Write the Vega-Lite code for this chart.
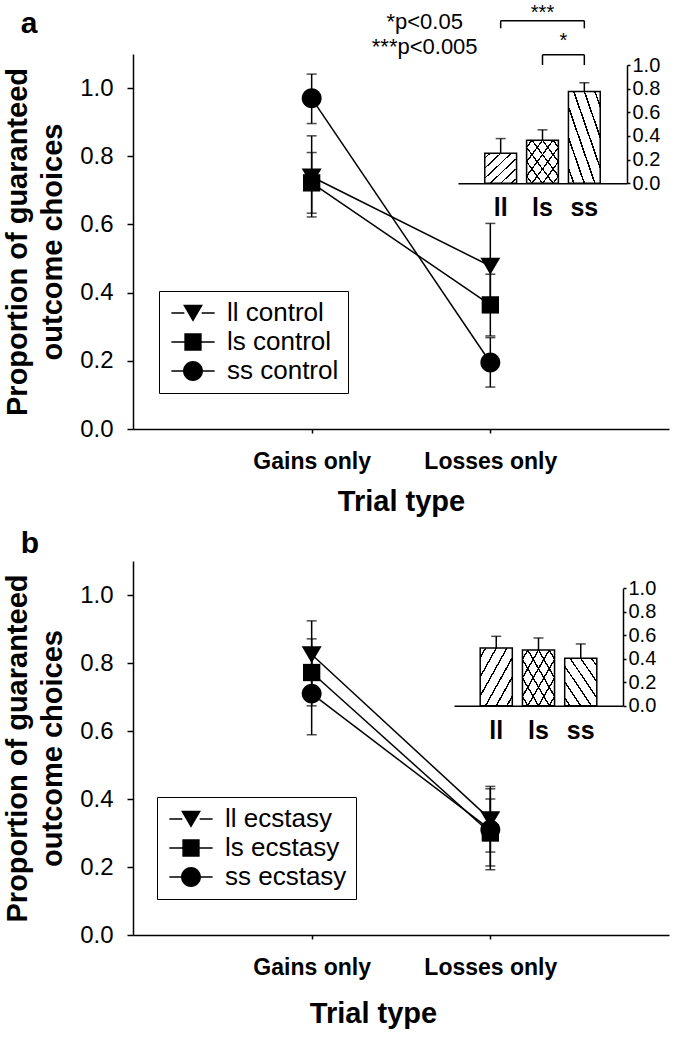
{
  "$schema": "https://vega.github.io/schema/vega-lite/v6.json",
  "background": "white",
  "padding": {"left": 3, "top": 2, "right": 5, "bottom": 5},
  "spacing": 13,
  "config": {
    "font": "Liberation Sans",
    "view": {"stroke": null},
    "axis": {"domainColor": "black", "tickColor": "black", "labelColor": "black", "titleColor": "black", "domainWidth": 1.5, "tickWidth": 1.5, "grid": false},
    "legend": {"labelColor": "black"},
    "title": {"color": "black"}
  },
  "resolve": {"scale": {"shape": "independent"}, "legend": {"shape": "independent"}},
  "datasets": {
    "main_a": [
      {"group": "ll control", "trial": "Gains only", "value": 0.74, "lo": 0.622, "hi": 0.86},
      {"group": "ls control", "trial": "Gains only", "value": 0.722, "lo": 0.633, "hi": 0.811},
      {"group": "ss control", "trial": "Gains only", "value": 0.97, "lo": 0.896, "hi": 1.041},
      {"group": "ll control", "trial": "Losses only", "value": 0.478, "lo": 0.358, "hi": 0.603},
      {"group": "ls control", "trial": "Losses only", "value": 0.364, "lo": 0.273, "hi": 0.454},
      {"group": "ss control", "trial": "Losses only", "value": 0.195, "lo": 0.123, "hi": 0.268}
    ],
    "main_b": [
      {"group": "ll ecstasy", "trial": "Gains only", "value": 0.825, "lo": 0.726, "hi": 0.924},
      {"group": "ls ecstasy", "trial": "Gains only", "value": 0.772, "lo": 0.674, "hi": 0.871},
      {"group": "ss ecstasy", "trial": "Gains only", "value": 0.71, "lo": 0.589, "hi": 0.83},
      {"group": "ll ecstasy", "trial": "Losses only", "value": 0.34, "lo": 0.244, "hi": 0.437},
      {"group": "ls ecstasy", "trial": "Losses only", "value": 0.30, "lo": 0.203, "hi": 0.40},
      {"group": "ss ecstasy", "trial": "Losses only", "value": 0.31, "lo": 0.192, "hi": 0.43}
    ],
    "inset_a": [
      {"g": "ll", "v": 0.254, "hi": 0.378},
      {"g": "ls", "v": 0.364, "hi": 0.452},
      {"g": "ss", "v": 0.776, "hi": 0.85}
    ],
    "inset_b": [
      {"g": "ll", "v": 0.491, "hi": 0.591},
      {"g": "ls", "v": 0.474, "hi": 0.577},
      {"g": "ss", "v": 0.404, "hi": 0.526}
    ],
    "brackets_a": [
      {"x": "ll", "x2": "ss", "y": 1.375, "y2": 1.375},
      {"x": "ll", "x2": "ll", "y": 1.31, "y2": 1.375},
      {"x": "ss", "x2": "ss", "y": 1.31, "y2": 1.375},
      {"x": "ls", "x2": "ss", "y": 1.087, "y2": 1.087},
      {"x": "ls", "x2": "ls", "y": 1.0, "y2": 1.087},
      {"x": "ss", "x2": "ss", "y": 1.0, "y2": 1.087}
    ],
    "stars3": [{"x": "ls", "y": 1.44, "t": "***"}],
    "stars1": [{"x": "ss", "y": 1.2, "t": "*"}],
    "notes_a": [
      {"x": "ll", "y": 1.36, "t": "*p<0.05"},
      {"x": "ll", "y": 1.155, "t": "***p<0.005"}
    ]
  },
  "vconcat": [
    {
      "width": 536,
      "height": 375,
      "title": {"text": "a", "anchor": "start", "frame": "bounds", "fontSize": 30, "fontWeight": "bold", "dx": 17, "dy": 60, "offset": 0, "baseline": "alphabetic"},
      "resolve": {"scale": {"x": "independent", "y": "independent"}},
      "layer": [
        {
          "data": {"name": "main_a"},
          "resolve": {"scale": {"shape": "independent"}, "legend": {"shape": "independent"}},
          "encoding": {
            "x": {"field": "trial", "type": "nominal", "sort": ["Gains only", "Losses only"], "scale": {"type": "point", "padding": 1},
              "axis": {"orient": "bottom", "labelAngle": 0, "labelFontSize": 23, "labelFontWeight": "bold", "tickSize": 4, "labelPadding": 17, "title": "Trial type", "titleFontSize": 29, "titleFontWeight": "bold", "titlePadding": 14}},
            "y": {"field": "value", "type": "quantitative", "scale": {"domain": [0, 1.1], "nice": false},
              "axis": {"values": [0, 0.2, 0.4, 0.6, 0.8, 1.0], "format": ".1f", "labelFontSize": 24, "tickSize": 6, "labelPadding": 14, "title": ["Proportion of guaranteed", "outcome choices"], "titleFontSize": 29, "titleFontWeight": "bold", "titlePadding": 12, "titleLineHeight": 35}}
          },
          "layer": [
            {"mark": {"type": "line", "color": "black", "strokeWidth": 1.5}, "encoding": {"detail": {"field": "group"}}},
            {"mark": {"type": "rule", "color": "black", "strokeWidth": 1.5},
              "encoding": {"y": {"field": "lo", "type": "quantitative", "scale": {"domain": [0, 1.1], "nice": false}}, "y2": {"field": "hi"}}},
            {"mark": {"type": "tick", "color": "black", "size": 10, "thickness": 1.5},
              "encoding": {"y": {"field": "lo", "type": "quantitative", "scale": {"domain": [0, 1.1], "nice": false}}}},
            {"mark": {"type": "tick", "color": "black", "size": 10, "thickness": 1.5},
              "encoding": {"y": {"field": "hi", "type": "quantitative", "scale": {"domain": [0, 1.1], "nice": false}}}},
            {"mark": {"type": "point", "filled": true, "color": "black", "opacity": 1, "size": 300},
              "encoding": {"shape": {"field": "group", "type": "nominal", "legend": null,
                "scale": {"domain": ["ll control", "ls control", "ss control"], "range": ["M-1.15,-0.95L1.15,-0.95L0,1Z", "M-1,-1H1V1H-1Z", "M-1.15,0A1.15,1.15,0,1,1,1.15,0A1.15,1.15,0,1,1,-1.15,0Z"]}}}},
            {"transform": [{"filter": "false"}],
              "mark": {"type": "point", "filled": true, "color": "black", "opacity": 1, "size": 300},
              "encoding": {"shape": {"field": "group", "type": "nominal",
                "scale": {"domain": ["ll control", "ls control", "ss control"], "range": ["M-2.5,-0.09H-1V0.09H-2.5ZM1,-0.09H2.5V0.09H1ZM-1.15,-0.95L1.15,-0.95L0,1Z", "M-2.5,-0.09H-1V0.09H-2.5ZM1,-0.09H2.5V0.09H1ZM-1,-1H1V1H-1Z", "M-2.5,-0.09H-1V0.09H-2.5ZM1,-0.09H2.5V0.09H1ZM-1.15,0A1.15,1.15,0,1,1,1.15,0A1.15,1.15,0,1,1,-1.15,0Z"]},
                "legend": {"orient": "none", "legendX": 26, "legendY": 237, "title": null, "strokeColor": "black", "padding": 9, "labelFontSize": 26, "symbolSize": 300, "symbolOffset": 12, "labelOffset": 21, "rowPadding": 3}}}}
          ]
        },
        {
          "encoding": {
            "x": {"field": "g", "type": "nominal", "scale": {"type": "band", "domain": ["ll", "ls", "ss"], "range": [325, 494], "paddingInner": 0.24, "paddingOuter": 0.64},
              "axis": {"orient": "bottom", "offset": -245.7, "title": null, "labelAngle": 0, "labelFontSize": 25, "labelFontWeight": "bold", "ticks": false, "labelPadding": 12}},
            "y": {"field": "v", "type": "quantitative", "scale": {"domain": [0, 1], "range": [129.3, 11], "nice": false},
              "axis": {"orient": "right", "offset": -42, "values": [0, 0.2, 0.4, 0.6, 0.8, 1.0], "format": ".1f", "title": null, "labelFontSize": 20, "tickSize": 3, "labelPadding": 2}}
          },
          "layer": [
            {"data": {"name": "inset_a"}, "mark": {"type": "bar", "fill": "white"}},
            {"data": {"name": "inset_a"}, "transform": [{"filter": "datum.g != 'ss'"}],
              "mark": {"type": "bar", "fill": {"gradient": "linear", "x1": 0, "y1": 0, "x2": 1, "y2": 1, "stops": [
                {"offset": 0, "color": "rgba(0,0,0,0)"}, {"offset": 0.071, "color": "rgba(0,0,0,0)"}, {"offset": 0.071, "color": "black"}, {"offset": 0.096, "color": "black"}, {"offset": 0.096, "color": "rgba(0,0,0,0)"},
                {"offset": 0.2375, "color": "rgba(0,0,0,0)"}, {"offset": 0.2375, "color": "black"}, {"offset": 0.2625, "color": "black"}, {"offset": 0.2625, "color": "rgba(0,0,0,0)"},
                {"offset": 0.404, "color": "rgba(0,0,0,0)"}, {"offset": 0.404, "color": "black"}, {"offset": 0.429, "color": "black"}, {"offset": 0.429, "color": "rgba(0,0,0,0)"},
                {"offset": 0.571, "color": "rgba(0,0,0,0)"}, {"offset": 0.571, "color": "black"}, {"offset": 0.596, "color": "black"}, {"offset": 0.596, "color": "rgba(0,0,0,0)"},
                {"offset": 0.7375, "color": "rgba(0,0,0,0)"}, {"offset": 0.7375, "color": "black"}, {"offset": 0.7625, "color": "black"}, {"offset": 0.7625, "color": "rgba(0,0,0,0)"},
                {"offset": 0.904, "color": "rgba(0,0,0,0)"}, {"offset": 0.904, "color": "black"}, {"offset": 0.929, "color": "black"}, {"offset": 0.929, "color": "rgba(0,0,0,0)"},
                {"offset": 1, "color": "rgba(0,0,0,0)"}]}}},
            {"data": {"name": "inset_a"}, "transform": [{"filter": "datum.g != 'll'"}],
              "mark": {"type": "bar", "fill": {"gradient": "linear", "x1": 0, "y1": 1, "x2": 1, "y2": 0, "stops": [
                {"offset": 0, "color": "rgba(0,0,0,0)"}, {"offset": 0.071, "color": "rgba(0,0,0,0)"}, {"offset": 0.071, "color": "black"}, {"offset": 0.096, "color": "black"}, {"offset": 0.096, "color": "rgba(0,0,0,0)"},
                {"offset": 0.2375, "color": "rgba(0,0,0,0)"}, {"offset": 0.2375, "color": "black"}, {"offset": 0.2625, "color": "black"}, {"offset": 0.2625, "color": "rgba(0,0,0,0)"},
                {"offset": 0.404, "color": "rgba(0,0,0,0)"}, {"offset": 0.404, "color": "black"}, {"offset": 0.429, "color": "black"}, {"offset": 0.429, "color": "rgba(0,0,0,0)"},
                {"offset": 0.571, "color": "rgba(0,0,0,0)"}, {"offset": 0.571, "color": "black"}, {"offset": 0.596, "color": "black"}, {"offset": 0.596, "color": "rgba(0,0,0,0)"},
                {"offset": 0.7375, "color": "rgba(0,0,0,0)"}, {"offset": 0.7375, "color": "black"}, {"offset": 0.7625, "color": "black"}, {"offset": 0.7625, "color": "rgba(0,0,0,0)"},
                {"offset": 0.904, "color": "rgba(0,0,0,0)"}, {"offset": 0.904, "color": "black"}, {"offset": 0.929, "color": "black"}, {"offset": 0.929, "color": "rgba(0,0,0,0)"},
                {"offset": 1, "color": "rgba(0,0,0,0)"}]}}},
            {"data": {"name": "inset_a"}, "mark": {"type": "bar", "fill": "transparent", "stroke": "black", "strokeWidth": 1.5}},
            {"data": {"name": "inset_a"}, "mark": {"type": "rule", "color": "black", "strokeWidth": 1.5}, "encoding": {"y2": {"field": "hi"}}},
            {"data": {"name": "inset_a"}, "mark": {"type": "tick", "color": "black", "size": 10, "thickness": 1.5},
              "encoding": {"y": {"field": "hi", "type": "quantitative", "scale": {"domain": [0, 1], "range": [129.3, 11], "nice": false}}}},
            {"data": {"name": "brackets_a"}, "mark": {"type": "rule", "color": "black", "strokeWidth": 1.5},
              "encoding": {
                "x": {"field": "x", "type": "nominal"},
                "x2": {"field": "x2"},
                "y": {"field": "y", "type": "quantitative"},
                "y2": {"field": "y2"}}},
            {"data": {"name": "stars3"}, "mark": {"type": "text", "fontSize": 20, "color": "black", "baseline": "middle"},
              "encoding": {"x": {"field": "x", "type": "nominal"}, "y": {"field": "y", "type": "quantitative"}, "text": {"field": "t"}}},
            {"data": {"name": "stars1"}, "mark": {"type": "text", "fontSize": 20, "color": "black", "baseline": "middle", "dx": -21},
              "encoding": {"x": {"field": "x", "type": "nominal"}, "y": {"field": "y", "type": "quantitative"}, "text": {"field": "t"}}},
            {"data": {"name": "notes_a"}, "mark": {"type": "text", "fontSize": 22, "color": "black", "baseline": "middle", "align": "center", "dx": -76},
              "encoding": {"x": {"field": "x", "type": "nominal"}, "y": {"field": "y", "type": "quantitative"}, "text": {"field": "t"}}}
          ]
        }
      ]
    },
    {
      "width": 536,
      "height": 374,
      "title": {"text": "b", "anchor": "start", "frame": "bounds", "fontSize": 30, "fontWeight": "bold", "dx": 17, "dy": 22, "offset": 0, "baseline": "alphabetic"},
      "resolve": {"scale": {"x": "independent", "y": "independent"}},
      "layer": [
        {
          "data": {"name": "main_b"},
          "resolve": {"scale": {"shape": "independent"}, "legend": {"shape": "independent"}},
          "encoding": {
            "x": {"field": "trial", "type": "nominal", "sort": ["Gains only", "Losses only"], "scale": {"type": "point", "padding": 1},
              "axis": {"orient": "bottom", "labelAngle": 0, "labelFontSize": 23, "labelFontWeight": "bold", "tickSize": 4, "labelPadding": 17, "title": "Trial type", "titleFontSize": 29, "titleFontWeight": "bold", "titlePadding": 20, "titleX": 240}},
            "y": {"field": "value", "type": "quantitative", "scale": {"domain": [0, 1.1], "nice": false},
              "axis": {"values": [0, 0.2, 0.4, 0.6, 0.8, 1.0], "format": ".1f", "labelFontSize": 24, "tickSize": 6, "labelPadding": 14, "title": ["Proportion of guaranteed", "outcome choices"], "titleFontSize": 29, "titleFontWeight": "bold", "titlePadding": 12, "titleLineHeight": 35}}
          },
          "layer": [
            {"mark": {"type": "line", "color": "black", "strokeWidth": 1.5}, "encoding": {"detail": {"field": "group"}}},
            {"mark": {"type": "rule", "color": "black", "strokeWidth": 1.5},
              "encoding": {"y": {"field": "lo", "type": "quantitative", "scale": {"domain": [0, 1.1], "nice": false}}, "y2": {"field": "hi"}}},
            {"mark": {"type": "tick", "color": "black", "size": 10, "thickness": 1.5},
              "encoding": {"y": {"field": "lo", "type": "quantitative", "scale": {"domain": [0, 1.1], "nice": false}}}},
            {"mark": {"type": "tick", "color": "black", "size": 10, "thickness": 1.5},
              "encoding": {"y": {"field": "hi", "type": "quantitative", "scale": {"domain": [0, 1.1], "nice": false}}}},
            {"mark": {"type": "point", "filled": true, "color": "black", "opacity": 1, "size": 300},
              "encoding": {"shape": {"field": "group", "type": "nominal", "legend": null,
                "scale": {"domain": ["ll ecstasy", "ls ecstasy", "ss ecstasy"], "range": ["M-1.15,-0.95L1.15,-0.95L0,1Z", "M-1,-1H1V1H-1Z", "M-1.15,0A1.15,1.15,0,1,1,1.15,0A1.15,1.15,0,1,1,-1.15,0Z"]}}}},
            {"transform": [{"filter": "false"}],
              "mark": {"type": "point", "filled": true, "color": "black", "opacity": 1, "size": 300},
              "encoding": {"shape": {"field": "group", "type": "nominal",
                "scale": {"domain": ["ll ecstasy", "ls ecstasy", "ss ecstasy"], "range": ["M-2.5,-0.09H-1V0.09H-2.5ZM1,-0.09H2.5V0.09H1ZM-1.15,-0.95L1.15,-0.95L0,1Z", "M-2.5,-0.09H-1V0.09H-2.5ZM1,-0.09H2.5V0.09H1ZM-1,-1H1V1H-1Z", "M-2.5,-0.09H-1V0.09H-2.5ZM1,-0.09H2.5V0.09H1ZM-1.15,0A1.15,1.15,0,1,1,1.15,0A1.15,1.15,0,1,1,-1.15,0Z"]},
                "legend": {"orient": "none", "legendX": 24, "legendY": 236, "title": null, "strokeColor": "black", "padding": 9, "labelFontSize": 26, "symbolSize": 300, "symbolOffset": 12, "labelOffset": 21, "rowPadding": 3}}}}
          ]
        },
        {
          "data": {"name": "inset_b"},
          "encoding": {
            "x": {"field": "g", "type": "nominal", "scale": {"type": "band", "domain": ["ll", "ls", "ss"], "range": [321, 490], "paddingInner": 0.24, "paddingOuter": 0.62},
              "axis": {"orient": "bottom", "offset": -229.3, "title": null, "labelAngle": 0, "labelFontSize": 25, "labelFontWeight": "bold", "ticks": false, "labelPadding": 13}},
            "y": {"field": "v", "type": "quantitative", "scale": {"domain": [0, 1], "range": [144.7, 27.3], "nice": false},
              "axis": {"orient": "right", "offset": -46, "values": [0, 0.2, 0.4, 0.6, 0.8, 1.0], "format": ".1f", "title": null, "labelFontSize": 20, "tickSize": 3, "labelPadding": 2}}
          },
          "layer": [
            {"mark": {"type": "bar", "fill": "white"}},
            {"transform": [{"filter": "datum.g != 'ss'"}],
              "mark": {"type": "bar", "fill": {"gradient": "linear", "x1": 0, "y1": 0, "x2": 1, "y2": 1, "stops": [
                {"offset": 0, "color": "rgba(0,0,0,0)"}, {"offset": 0.071, "color": "rgba(0,0,0,0)"}, {"offset": 0.071, "color": "black"}, {"offset": 0.096, "color": "black"}, {"offset": 0.096, "color": "rgba(0,0,0,0)"},
                {"offset": 0.2375, "color": "rgba(0,0,0,0)"}, {"offset": 0.2375, "color": "black"}, {"offset": 0.2625, "color": "black"}, {"offset": 0.2625, "color": "rgba(0,0,0,0)"},
                {"offset": 0.404, "color": "rgba(0,0,0,0)"}, {"offset": 0.404, "color": "black"}, {"offset": 0.429, "color": "black"}, {"offset": 0.429, "color": "rgba(0,0,0,0)"},
                {"offset": 0.571, "color": "rgba(0,0,0,0)"}, {"offset": 0.571, "color": "black"}, {"offset": 0.596, "color": "black"}, {"offset": 0.596, "color": "rgba(0,0,0,0)"},
                {"offset": 0.7375, "color": "rgba(0,0,0,0)"}, {"offset": 0.7375, "color": "black"}, {"offset": 0.7625, "color": "black"}, {"offset": 0.7625, "color": "rgba(0,0,0,0)"},
                {"offset": 0.904, "color": "rgba(0,0,0,0)"}, {"offset": 0.904, "color": "black"}, {"offset": 0.929, "color": "black"}, {"offset": 0.929, "color": "rgba(0,0,0,0)"},
                {"offset": 1, "color": "rgba(0,0,0,0)"}]}}},
            {"transform": [{"filter": "datum.g != 'll'"}],
              "mark": {"type": "bar", "fill": {"gradient": "linear", "x1": 0, "y1": 1, "x2": 1, "y2": 0, "stops": [
                {"offset": 0, "color": "rgba(0,0,0,0)"}, {"offset": 0.071, "color": "rgba(0,0,0,0)"}, {"offset": 0.071, "color": "black"}, {"offset": 0.096, "color": "black"}, {"offset": 0.096, "color": "rgba(0,0,0,0)"},
                {"offset": 0.2375, "color": "rgba(0,0,0,0)"}, {"offset": 0.2375, "color": "black"}, {"offset": 0.2625, "color": "black"}, {"offset": 0.2625, "color": "rgba(0,0,0,0)"},
                {"offset": 0.404, "color": "rgba(0,0,0,0)"}, {"offset": 0.404, "color": "black"}, {"offset": 0.429, "color": "black"}, {"offset": 0.429, "color": "rgba(0,0,0,0)"},
                {"offset": 0.571, "color": "rgba(0,0,0,0)"}, {"offset": 0.571, "color": "black"}, {"offset": 0.596, "color": "black"}, {"offset": 0.596, "color": "rgba(0,0,0,0)"},
                {"offset": 0.7375, "color": "rgba(0,0,0,0)"}, {"offset": 0.7375, "color": "black"}, {"offset": 0.7625, "color": "black"}, {"offset": 0.7625, "color": "rgba(0,0,0,0)"},
                {"offset": 0.904, "color": "rgba(0,0,0,0)"}, {"offset": 0.904, "color": "black"}, {"offset": 0.929, "color": "black"}, {"offset": 0.929, "color": "rgba(0,0,0,0)"},
                {"offset": 1, "color": "rgba(0,0,0,0)"}]}}},
            {"mark": {"type": "bar", "fill": "transparent", "stroke": "black", "strokeWidth": 1.5}},
            {"mark": {"type": "rule", "color": "black", "strokeWidth": 1.5}, "encoding": {"y2": {"field": "hi"}}},
            {"mark": {"type": "tick", "color": "black", "size": 10, "thickness": 1.5},
              "encoding": {"y": {"field": "hi", "type": "quantitative", "scale": {"domain": [0, 1], "range": [144.7, 27.3], "nice": false}}}}
          ]
        }
      ]
    }
  ]
}
